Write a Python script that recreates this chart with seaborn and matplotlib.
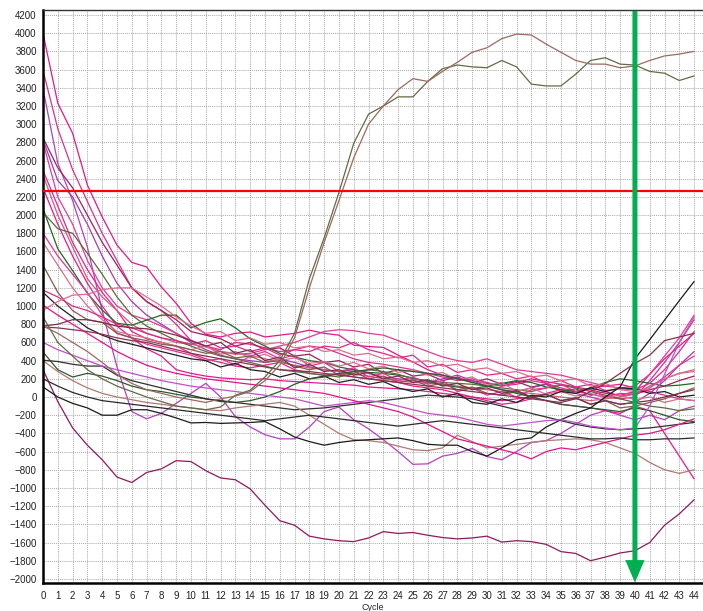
import matplotlib
matplotlib.use("Agg")
import matplotlib.pyplot as plt
import seaborn as sns
import pandas as pd
from matplotlib.ticker import MultipleLocator

cycles = list(range(45))
threshold = 2270
marker_cycle = 40

pink_a = [4000, 3230, 2900, 2330, 1980, 1670, 1480, 1430, 1210, 1030,
          810, 690, 660, 700, 715, 660, 680, 700, 735, 700,
          680, 570, 555, 545, 460, 385, 300, 240, 205, 180,
          150, 120, 160, 200, 170, 140, 110, 80, 40, 20,
          60, 250, 420, 560, 700]
pink_b = [3590, 2950, 2500, 2150, 1800, 1500, 1200, 1050, 950, 800,
          620, 560, 520, 600, 580, 540, 500, 520, 560, 540,
          480, 420, 380, 360, 330, 300, 260, 220, 180, 200,
          160, 120, 140, 180, 150, 100, 60, 30, 0, -20,
          0, 180, 380, 600, 850]
orchid_a = [3390, 2570, 2160, 1650, 950, 330, -160, -240, -180, -70,
            40, 150, 0, -215, -330, -415, -460, -460, -330, -160,
            -110, -250, -350, -470, -600, -740, -735, -650, -620, -565,
            -655, -690, -600, -500, -480, -400, -300, -200, -150, -200,
            -250, -200, -250, -150, -100]
dmag = [2850, 2520, 2300, 2000, 1700, 1450, 1200, 1050, 950, 850,
        720, 680, 640, 560, 600, 520, 540, 450, 470, 380,
        400, 330, 360, 260, 300, 230, 250, 180, 220, 160,
        200, 140, 170, 110, 140, 60, 90, 20, 60, 10,
        30, 80, 120, 180, 230]
violet_c = [2830, 2380, 2200, 1900, 1550, 1250, 1050, 900, 800, 700,
            600, 520, 460, 420, 400, 380, 420, 380, 330, 300,
            280, 300, 260, 220, 200, 180, 160, 200, 240, 180,
            120, 80, 60, 100, 140, 80, 40, 0, -40, -80,
            -60, 40, 180, 350, 500]
pink_c = [2800, 2200, 1900, 1500, 1200, 1000, 900, 850, 780, 700,
          620, 560, 500, 470, 480, 520, 560, 600, 660, 720,
          740, 730, 700, 680, 620, 560, 500, 440, 400, 380,
          420, 360, 300, 280, 260, 240, 200, 160, 120, 100,
          120, 250, 450, 650, 900]
pink_d = [2490, 2100, 1700, 1400, 1150, 950, 720, 640, 600, 560,
          480, 420, 380, 340, 320, 350, 380, 300, 260, 240,
          260, 220, 200, 180, 160, 120, 100, 80, 40, 0,
          -40, -80, -60, -20, 40, 80, 60, 100, 120, 140,
          100, 60, 20, -20, -40]
rosy_a = [2440, 2000, 1650, 1300, 1100, 950, 800, 700, 650, 600,
          580, 550, 500, 480, 460, 420, 380, 350, 320, 300,
          280, 250, 230, 200, 180, 160, 150, 140, 120, 100,
          80, 60, 50, 40, 20, 0, -20, -40, -20, 0,
          40, 120, 200, 260, 300]
pink_e = [2300, 1900, 1550, 1250, 1000, 780, 650, 530, 450, 300,
          260, 230, 210, 200, 190, 200, 180, 170, 160, 150,
          140, 130, 110, 100, 90, 80, 60, 40, 20, 0,
          -20, -40, -20, 0, -40, -80, -100, -120, -150, -180,
          -100, -150, -400, -650, -900]
dgreen_a = [2070, 1630, 1390, 1140, 955, 810, 790, 845, 900, 900,
            760, 820, 860, 760, 640, 560, 480, 440, 400, 380,
            330, 300, 270, 260, 240, 210, 170, 130, 110, 90,
            120, 150, 180, 160, 110, 80, 60, 100, 160, 200,
            180, 150, 120, 130, 150]
olive_a = [2030, 1850, 1800, 1580, 1350, 1100, 900, 780, 700, 620,
           560, 500, 450, 420, 380, 340, 300, 280, 260, 240,
           220, 260, 300, 280, 250, 200, 180, 160, 150, 140,
           120, 100, 80, 60, 100, 130, 100, 60, 20, -20,
           -60, -100, -120, -150, -130]
pink_f = [1800, 1550, 1350, 1150, 900, 700, 650, 580, 540, 500,
          460, 400, 420, 350, 450, 500, 420, 460, 340, 380,
          280, 320, 220, 260, 180, 220, 140, 180, 60, 100,
          20, 60, 0, 80, 100, 140, 60, 80, 0, 40,
          30, 100, 220, 350, 450]
rosy_b = [1700, 1450, 1200, 1000, 850, 720, 680, 650, 600, 560,
          520, 560, 470, 500, 430, 470, 400, 430, 370, 390,
          340, 380, 310, 340, 270, 300, 240, 270, 190, 220,
          130, 160, 60, 100, 30, 60, 10, 40, -10, 20,
          -30, 0, -60, -20, -40]
brown_a = [1450, 1150, 950, 850, 820, 700, 650, 620, 580, 560,
           520, 480, 500, 430, 450, 380, 400, 340, 300, 330,
           240, 280, 200, 230, 160, 190, 120, 150, 80, 110,
           40, 20, 60, 0, 30, -40, -10, -80, -40, -120,
           -100, -60, -20, 40, 100]
pink_g = [1175, 1100, 1000, 950, 880, 800, 760, 700, 650, 620,
          580, 620, 540, 560, 500, 540, 460, 520, 500, 560,
          540, 600, 520, 480, 430, 460, 330, 360, 270, 300,
          240, 260, 200, 230, 150, 180, 110, 140, 70, 90,
          80, 150, 300, 500, 720]
black_a = [1150, 1000, 880, 760, 680, 620, 580, 540, 500, 460,
           420, 400, 330, 370, 300, 280, 220, 260, 200, 230,
           160, 190, 140, 170, 100, 60, 90, 0, 40, -60,
           -80, -20, -60, 20, 0, 60, 40, 100, 60, 100,
           90, 40, 60, 0, 20]
pink_rose = [955, 1050, 1120, 1130, 1180, 1200, 1200, 1100, 1000, 880,
             780, 700, 720, 620, 650, 580, 600, 540, 560, 500,
             520, 460, 480, 420, 440, 380, 400, 340, 360, 300,
             320, 260, 280, 220, 240, 180, 200, 120, 150, 80,
             60, 100, 200, 260, 280]
amp_olive = [880, 600, 450, 300, 200, 120, 60, 0, -50, -100,
             -120, -140, -110, 20, 75, 220, 400, 700, 1300, 1750,
             2250, 2790, 3110, 3200, 3300, 3300, 3470, 3610, 3650, 3630,
             3620, 3700, 3630, 3440, 3420, 3420, 3550, 3700, 3730, 3660,
             3650, 3580, 3560, 3480, 3530]
amp_brown = [780, 700, 600, 500, 380, 250, 150, 80, 40, 0,
             -30, -60, -20, 10, 60, 180, 350, 650, 1200, 1700,
             2160, 2630, 3000, 3200, 3380, 3500, 3470, 3580, 3680, 3790,
             3840, 3940, 3990, 3980, 3880, 3790, 3700, 3660, 3660, 3620,
             3640, 3700, 3750, 3770, 3800]
maroon_a = [780, 800, 850, 850, 820, 780, 760, 750, 720, 680,
            620, 560, 600, 480, 520, 400, 440, 320, 360, 280,
            300, 240, 270, 200, 230, 160, 190, 120, 150, 80,
            100, 40, 70, 0, 30, -40, -10, -80, -40, -80,
            -60, -40, 0, 40, 80]
dgreen_b = [495, 300, 220, 260, 230, 180, 120, 80, 60, 30,
            0, -20, -50, -60, -40, 0, 60, 140, 200, 220,
            260, 280, 300, 320, 300, 280, 260, 240, 200, 160,
            120, 80, 40, 0, -40, -80, -100, -120, -140, -160,
            -120, -150, -200, -250, -270]
black_b = [405, 390, 360, 340, 340, 240, 180, 140, 100, 60,
           20, -20, -40, -60, -80, -100, -120, -140, -130, -120,
           -100, -80, -60, -40, -20, 0, 20, 10, 0, -20,
           -60, -100, -140, -180, -220, -260, -300, -330, -350, -360,
           -350, -340, -320, -300, -280]
rosybrown_c = [400, 280, 180, 100, 40, 0, -30, -60, -80, -100,
               -120, -140, -150, -120, -100, -80, -60, -100, -200, -300,
               -400, -470, -480, -500, -540, -580, -590, -560, -420, -490,
               -560, -540, -520, -500, -480, -470, -460, -470, -500, -560,
               -620, -720, -800, -840, -800]
low_mag = [300, -50, -340, -530, -690, -880, -940, -830, -790, -700,
           -710, -810, -890, -910, -1010, -1190, -1360, -1410, -1530, -1560,
           -1580, -1590, -1550, -1480, -1500, -1490, -1520, -1545, -1560, -1550,
           -1530, -1595, -1580, -1590, -1620, -1700, -1720, -1800, -1760, -1715,
           -1690, -1600, -1410, -1285, -1130]
black_low = [110, 0, -70, -120, -200, -200, -140, -140, -180, -230,
             -285, -280, -290, -285, -280, -270, -350, -440, -490, -530,
             -500, -480, -470, -460, -450, -480, -520, -530, -530, -600,
             -650, -560, -470, -450, -330, -250, -180, -120, 0, 110,
             420, 630, 845, 1060, 1270]
orchid_b = [600, 520, 460, 400, 340, 300, 260, 220, 180, 150,
            120, 100, 80, 60, 40, 20, 0, -20, -60, -100,
            -80, -60, -40, -60, -100, -140, -180, -200, -220, -260,
            -300, -320, -300, -280, -260, -250, -280, -320, -340, -360,
            -340, -100, 250, 600, 880]
pink_h = [1010, 900, 800, 700, 600, 500, 420, 350, 300, 260,
          230, 200, 180, 160, 140, 120, 100, 80, 60, 40,
          0, -40, -80, -120, -160, -220, -300, -380, -460, -500,
          -540, -580, -620, -680, -600, -560, -580, -540, -500, -460,
          -420, -400, -360, -300, -240]
maroon_b = [770, 760, 740, 720, 690, 650, 620, 600, 560, 520,
            480, 450, 420, 390, 360, 330, 300, 290, 280, 260,
            240, 220, 200, 180, 160, 140, 120, 100, 80, 60,
            40, 20, 0, -20, -40, -60, -20, 60, 150, 260,
            370, 460, 620, 660, 700]
black_c = [200, 120, 50, 0, -40, -60, -80, -100, -120, -140,
           -160, -180, -200, -220, -240, -260, -240, -220, -200, -220,
           -240, -260, -280, -300, -320, -300, -280, -260, -280, -300,
           -320, -340, -360, -380, -400, -420, -440, -460, -460, -450,
           -470, -470, -460, -460, -450]

series = {
    "pink_a": pink_a, "pink_b": pink_b, "orchid_a": orchid_a, "dmag": dmag,
    "violet_c": violet_c, "pink_c": pink_c, "pink_d": pink_d, "rosy_a": rosy_a,
    "pink_e": pink_e, "dgreen_a": dgreen_a, "olive_a": olive_a, "pink_f": pink_f,
    "rosy_b": rosy_b, "brown_a": brown_a, "pink_g": pink_g, "black_a": black_a,
    "pink_rose": pink_rose, "maroon_a": maroon_a, "dgreen_b": dgreen_b,
    "black_b": black_b, "rosybrown_c": rosybrown_c, "low_mag": low_mag,
    "black_low": black_low, "orchid_b": orchid_b, "pink_h": pink_h,
    "maroon_b": maroon_b, "black_c": black_c,
    "amp_olive": amp_olive, "amp_brown": amp_brown,
}
colors = {
    "pink_a": "#E0188C", "pink_b": "#D8308E", "orchid_a": "#B540C0", "dmag": "#A02060",
    "violet_c": "#A838B0", "pink_c": "#E23C98", "pink_d": "#E8208C", "rosy_a": "#C8607A",
    "pink_e": "#E81890", "dgreen_a": "#1E6B1E", "olive_a": "#5A6A3C", "pink_f": "#E8309A",
    "rosy_b": "#D4708A", "brown_a": "#8B5A4A", "pink_g": "#E0288C", "black_a": "#202020",
    "pink_rose": "#E06A8C", "maroon_a": "#7A2E4A", "dgreen_b": "#2D5A2D",
    "black_b": "#303030", "rosybrown_c": "#B07A70", "low_mag": "#8E1A5E",
    "black_low": "#1A1A1A", "orchid_b": "#C050C8", "pink_h": "#E0148C",
    "maroon_b": "#8A3050", "black_c": "#2A2A2A",
    "amp_olive": "#636B45", "amp_brown": "#9A6A5E",
}
for k, v in series.items():
    assert len(v) == 45, (k, len(v))

rows = []
for name, vals in series.items():
    for c, v in zip(cycles, vals):
        rows.append({"Cycle": c, "Value": v, "Sample": name})
df = pd.DataFrame(rows)

sns.set_style("white")
plt.rcParams['font.family'] = ['Liberation Sans', 'DejaVu Sans']

fig = plt.figure(figsize=(7.03, 6.11), dpi=100)
ax = fig.add_axes([43 / 703, 28 / 611, 660 / 703, 573 / 611])

sns.lineplot(data=df, x="Cycle", y="Value", hue="Sample", palette=colors,
             estimator=None, legend=False, linewidth=0.9, ax=ax, sort=False)

ax.axhline(threshold, color="#FF0000", lw=1.6, zorder=3)

ax.annotate("", xy=(marker_cycle, -2040), xytext=(marker_cycle, 4245),
            arrowprops=dict(arrowstyle="-|>,head_length=0.7,head_width=0.3",
                            color="#00B050", lw=3.6, mutation_scale=14,
                            shrinkA=0, shrinkB=0, joinstyle="miter",
                            capstyle="butt"),
            zorder=5)

ax.set_xlim(0, 44.6)
ax.set_ylim(-2045, 4255)
ax.xaxis.set_major_locator(MultipleLocator(1))
ax.xaxis.set_minor_locator(MultipleLocator(0.2))
ax.yaxis.set_major_locator(MultipleLocator(200))
ax.set_axisbelow(True)
ax.grid(True, which="major", color="#adadad", linestyle=(0, (1.0, 1.0)), linewidth=0.75)

ax.tick_params(axis="both", which="major", labelsize=7, length=3, width=0.8,
               colors="#222222", pad=1.5, direction="out")
ax.tick_params(axis="x", which="minor", length=2, width=0.5, colors="#444444")
ax.tick_params(axis="x", which="major", pad=3)
ax.set_xlabel("Cycle", fontsize=6.5, labelpad=1)
ax.set_ylabel("")

for side in ["left", "bottom"]:
    ax.spines[side].set_linewidth(1.8)
    ax.spines[side].set_color("black")
ax.spines["top"].set_linewidth(1.0)
ax.spines["top"].set_color("#333333")
ax.spines["right"].set_visible(False)

fig.savefig("out.png", dpi=100)
